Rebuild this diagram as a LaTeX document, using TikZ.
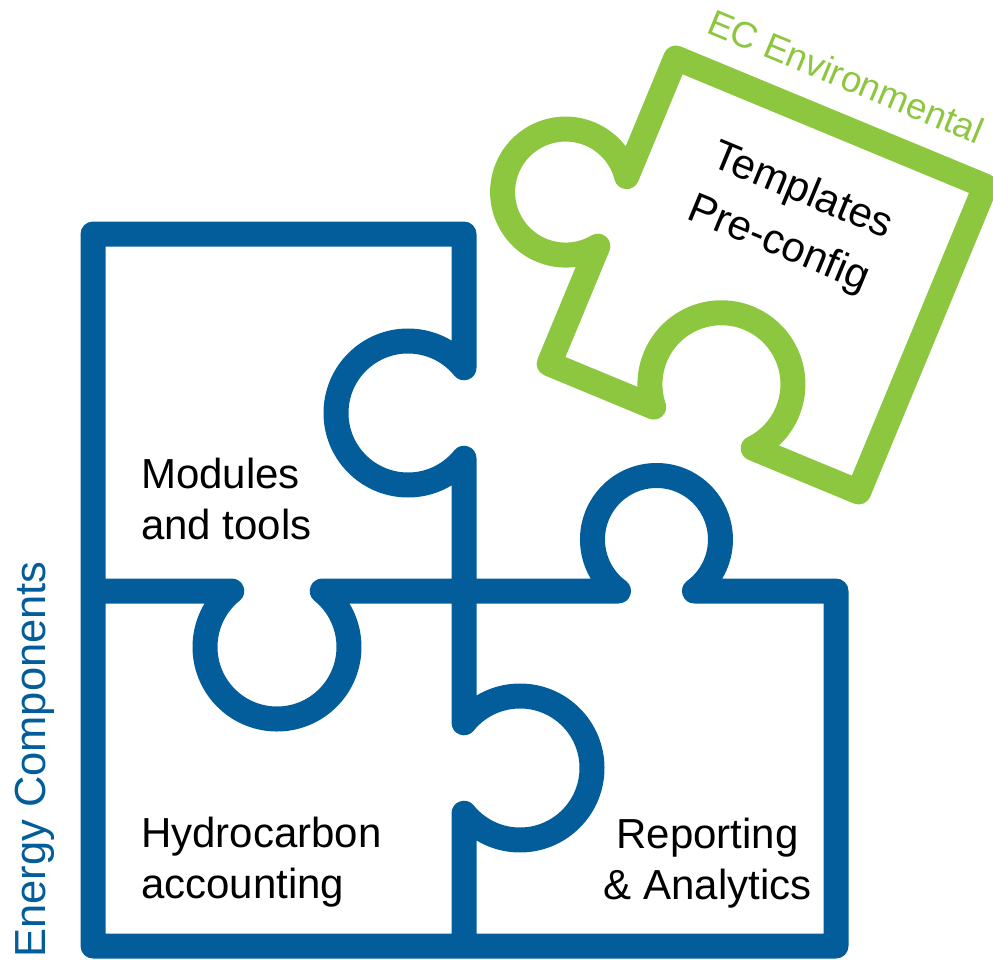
\documentclass[tikz,border=0pt]{standalone}
\usepackage{fontspec}
\setmainfont{Liberation Sans}
\definecolor{ecblue}{RGB}{2,93,154}
\definecolor{ecgreen}{RGB}{141,198,63}
\begin{document}
\begin{tikzpicture}[x=1pt,y=1pt,
  outline/.style={line width=25pt, line join=round, line cap=round},
  txt/.style={inner sep=0pt, font=\fontsize{42}{50}\selectfont},
]
\useasboundingbox (0,0) rectangle (993,-959);

% blue puzzle: three pieces drawn as one continuous outline
\draw[outline, ecblue]
  (93,-591) -- (231.75,-591)
  arc[start angle=128.94, end angle=411.06, radius=72]
  -- (618.5,-591)
  arc[start angle=233.6, end angle=-53.6, radius=64]
  -- (836,-591) -- (836,-946) -- (93,-946) -- (93,-234) -- (464,-234)
  -- (464,-367.75)
  arc[start angle=38.94, end angle=321.06, radius=72]
  -- (464,-591) -- (464,-722.75)
  arc[start angle=141.06, end angle=-141.06, radius=72]
  -- (464,-946);

% green loose piece, tilted
\begin{scope}[shift={(679.5,-59.5)}, rotate=-22.5]
  \draw[outline, ecgreen]
    (-4,0) -- (331,0) -- (331,-331) -- (216.9,-331)
    arc[start angle=-41.1, end angle=221.1, radius=71.5]
    -- (-4,-331) -- (-4,-203.7)
    arc[start angle=-36.7, end angle=-323.3, radius=63]
    -- cycle;
\end{scope}

% piece captions
\node[txt, anchor=base west] (mod1) at (141,-488) {Modules};
\node[txt, anchor=base west] (mod2) at (141,-539) {and tools};
\node[txt, anchor=base west] (hyd1) at (141,-847) {Hydrocarbon};
\node[txt, anchor=base west] (hyd2) at (141,-898) {accounting};
\node[txt, anchor=base] (rep1) at (707.5,-848) {Reporting};
\node[txt, anchor=base] (rep2) at (707.5,-899) {\& Analytics};
\node[txt, rotate=-22.5, anchor=base] (tpl1) at (797.7,-202.1) {Templates};
\node[txt, rotate=-22.5, anchor=base] (tpl2) at (774.3,-254.9) {Pre-config};

% group titles
\node[txt, font=\fontsize{43.5}{50}\selectfont, text=ecblue, rotate=90, anchor=base west] (energy) at (45,-958) {Energy Components};
\node[txt, font=\fontsize{36.5}{44}\selectfont, text=ecgreen, rotate=-22.5, anchor=base west] (env) at (705,-32) {EC Environmental};
\end{tikzpicture}
\end{document}
